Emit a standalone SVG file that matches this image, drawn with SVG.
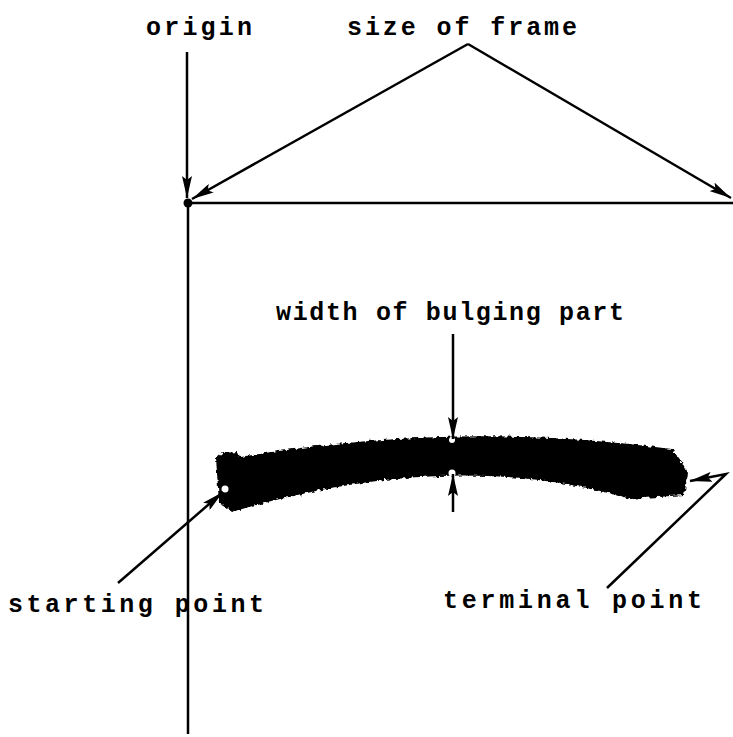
<svg xmlns="http://www.w3.org/2000/svg" width="733" height="737" viewBox="0 0 733 737">
<defs>
<marker id="ah" viewBox="0 0 22 10" refX="22" refY="5" markerWidth="22" markerHeight="10" markerUnits="userSpaceOnUse" orient="auto">
<path d="M0,0 L22,5 L0,10 L4,5 Z" fill="#000"/>
</marker>
<filter id="rough" x="-5%" y="-20%" width="110%" height="140%">
<feTurbulence type="fractalNoise" baseFrequency="0.25" numOctaves="2" seed="3" result="n"/>
<feDisplacementMap in="SourceGraphic" in2="n" scale="5" xChannelSelector="R" yChannelSelector="G"/>
</filter>
</defs>
<style>
.t{font-family:"Liberation Mono","DejaVu Sans Mono",monospace;font-size:25px;font-weight:bold;fill:#000}
.l{stroke:#000;stroke-width:2.5;fill:none}
</style>
<rect width="733" height="737" fill="#fff"/>
<g id="axes">
<line class="l" x1="188" y1="203" x2="188" y2="734"/>
<line class="l" x1="188" y1="203" x2="733" y2="203"/>
<circle cx="188" cy="203" r="4.5" fill="#000"/>
</g>
<g id="stroke">
<path filter="url(#rough)" d="M216,458 L222,453 L238,452 L240,457 Q460,420 672,449 L682,462 L688,474 L684,495 L630,499 Q452,446 232,512 L219,502 Z" fill="#000"/>
<circle cx="452" cy="440" r="3" fill="#fff"/>
<circle cx="452" cy="473" r="3.5" fill="#fff"/>
<circle cx="225" cy="489" r="3.5" fill="#fff"/>
<circle cx="689" cy="481" r="3" fill="#fff"/>
</g>
<g id="connectors">
<line class="l" x1="187" y1="52" x2="187" y2="198" marker-end="url(#ah)"/>
<line class="l" x1="468" y1="44" x2="192" y2="199" marker-end="url(#ah)"/>
<line class="l" x1="468" y1="44" x2="731" y2="198" marker-end="url(#ah)"/>
<line class="l" x1="453" y1="334" x2="453" y2="439" marker-end="url(#ah)"/>
<line class="l" x1="453" y1="512" x2="453" y2="474" marker-end="url(#ah)"/>
<line class="l" x1="118" y1="583" x2="223" y2="492" marker-end="url(#ah)"/>
<polyline class="l" points="607,588 726,474 690,481" marker-end="url(#ah)"/>
</g>
<g id="labels">
<text class="t" x="146" y="35" textLength="106" lengthAdjust="spacing">origin</text>
<text class="t" x="347" y="35" textLength="230" lengthAdjust="spacing">size of frame</text>
<text class="t" x="276" y="320" textLength="348" lengthAdjust="spacing">width of bulging part</text>
<text class="t" x="8" y="612" textLength="256" lengthAdjust="spacing">starting point</text>
<text class="t" x="443" y="608" textLength="259" lengthAdjust="spacing">terminal point</text>
</g>
</svg>
